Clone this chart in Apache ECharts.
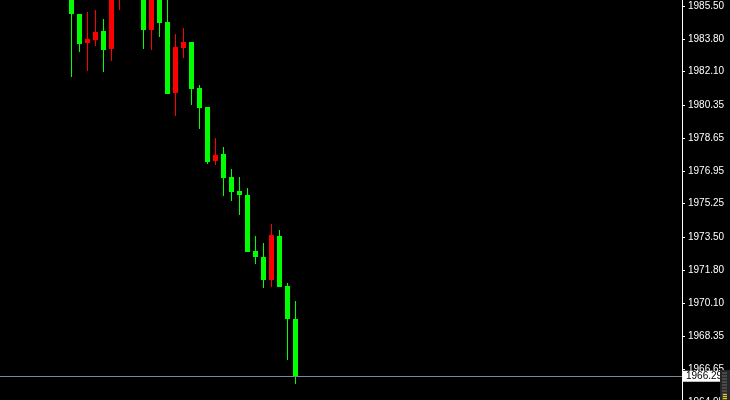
<!DOCTYPE html>
<html>
<head>
<meta charset="utf-8">
<script src="https://cdn.jsdelivr.net/npm/echarts@6/dist/echarts.min.js"></script>
<style>html,body{margin:0;padding:0;background:#000;overflow:hidden;}#c{width:730px;height:412px;}</style>
</head>
<body>
<div id="c"></div>
<script>
// Candle data (index order, left to right)
const opens  = [1986.60,1985.09,1983.58,1983.75,1984.20,1983.29,1986.30,1987.20,1987.60,1986.90,1984.27,1986.30,1984.67,1981.00,1983.34,1983.65,1981.25,1980.26,1977.48,1977.84,1976.65,1975.92,1975.71,1972.79,1972.48,1971.30,1973.57,1970.98,1969.27];
const closes = [1985.06,1983.54,1983.79,1984.15,1983.23,1986.40,1987.20,1987.60,1986.90,1984.27,1986.30,1984.63,1980.95,1983.37,1983.65,1981.21,1980.23,1977.42,1977.79,1976.59,1975.87,1975.71,1972.76,1972.50,1971.30,1973.62,1970.94,1969.28,1966.29];
const lows   = [1981.84,1983.13,1982.14,1983.44,1982.09,1982.66,1985.31,1986.50,1986.20,1983.29,1983.23,1983.91,1980.93,1979.81,1982.82,1980.38,1979.14,1977.32,1977.25,1975.66,1975.40,1974.68,1972.74,1972.13,1970.89,1970.94,1970.94,1967.15,1965.91];
const highs  = [1986.95,1985.09,1985.19,1985.29,1984.83,1986.70,1987.50,1988.00,1987.90,1987.10,1986.60,1986.50,1985.80,1984.06,1984.37,1983.65,1981.40,1980.26,1978.67,1978.19,1977.06,1976.65,1976.08,1973.57,1973.21,1974.19,1973.88,1971.13,1970.20];
const tickLabels = ["1985.50","1983.80","1982.10","1980.35","1978.65","1976.95","1975.25","1973.50","1971.80","1970.10","1968.35","1966.65","1964.95"];
const lastPrice = 1966.29;
const lastPriceLabel = "1966.29";

const tickValues = tickLabels.map(Number);
const candles = opens.map((o, i) => [i, o, closes[i], lows[i], highs[i]]);
const UP = '#ff0000', DOWN = '#00ff00';

const chart = echarts.init(document.getElementById('c'), null, {renderer: 'canvas'});
const font = 'Liberation Sans';
const widget = [
  {type: 'rect', shape: {x: 720, y: 370, width: 10, height: 42}, style: {fill: '#262626'}, z: 100},
  {type: 'rect', shape: {x: 722, y: 372, width: 5, height: 40}, style: {fill: '#4a4a4a'}, z: 101}
];
for (let y = 374; y < 393; y += 3) widget.push({type: 'rect', shape: {x: 722, y: y, width: 5, height: 1}, style: {fill: '#2a2a2a'}, z: 102});
for (let y = 394; y < 400; y += 2) widget.push({type: 'rect', shape: {x: 723, y: y, width: 4, height: 1}, style: {fill: '#e8d000'}, z: 102});

function renderCandle(params, api) {
  const x = api.value(0), o = api.value(1), c = api.value(2), l = api.value(3), h = api.value(4);
  const pO = api.coord([x, o]), pC = api.coord([x, c]), pL = api.coord([x, l]), pH = api.coord([x, h]);
  const cx = Math.floor(pO[0]);
  const color = c > o ? UP : DOWN;
  const yH = Math.round(pH[1]), yL = Math.round(pL[1]);
  const top = Math.round(Math.min(pO[1], pC[1])), bot = Math.round(Math.max(pO[1], pC[1]));
  return {
    type: 'group',
    children: [
      {type: 'rect', shape: {x: cx, y: yH, width: 1, height: Math.max(1, yL - yH)}, style: {fill: color}},
      {type: 'rect', shape: {x: cx - 2, y: top, width: 5, height: Math.max(1, bot - top)}, style: {fill: color}}
    ]
  };
}

chart.setOption({
  backgroundColor: '#000000',
  animation: false,
  grid: {left: 0, right: 48, top: 0, bottom: 0, containLabel: false},
  xAxis: {
    type: 'value', min: -8.9375, max: 76.3125,
    show: false, splitLine: {show: false}
  },
  yAxis: {
    type: 'value', position: 'right',
    min: 1964.442, max: 1985.811,
    splitLine: {show: false},
    axisLine: {show: true, onZero: false, lineStyle: {color: '#ffffff', width: 1}},
    axisTick: {show: true, length: 3, inside: false, lineStyle: {color: '#ffffff'}, customValues: tickValues},
    axisLabel: {
      show: true, margin: 6, color: '#ffffff', fontFamily: font, fontSize: 10,
      customValues: tickValues,
      formatter: v => { const i = tickValues.findIndex(t => Math.abs(t - v) < 1e-6); return i >= 0 ? tickLabels[i] : ''; }
    }
  },
  series: [{
    type: 'custom',
    data: candles,
    encode: {x: 0, y: [1, 2, 3, 4]},
    renderItem: renderCandle,
    clip: true,
    markLine: {
      silent: true, symbol: ['none', 'none'],
      lineStyle: {color: '#778899', width: 1, type: 'solid'},
      label: {
        show: true, position: 'end', distance: 1,
        formatter: lastPriceLabel, color: '#000000', backgroundColor: '#ffffff',
        fontFamily: font, fontSize: 10, padding: [1, 3, 0, 3]
      },
      data: [{yAxis: lastPrice}]
    }
  }],
  graphic: widget
});
</script>
</body>
</html>
